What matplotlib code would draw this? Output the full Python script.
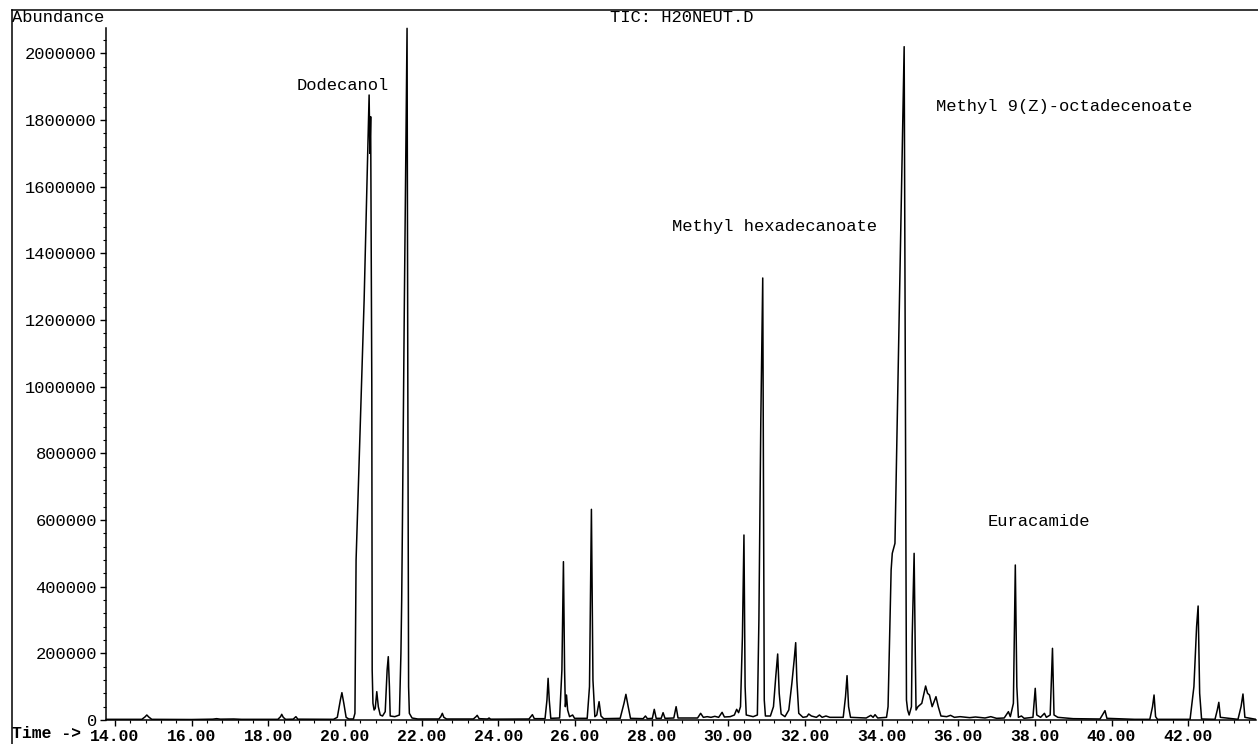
import matplotlib
matplotlib.use("Agg")
import matplotlib.pyplot as plt
from matplotlib.lines import Line2D
from matplotlib.ticker import MultipleLocator, FixedLocator, FormatStrFormatter
import numpy as np

# retention time (min) and abundance, point by point
time = [13.77, 14.70, 14.78, 14.83, 14.88, 14.96, 16.00, 16.55, 16.65, 16.75, 17.10, 17.30,
        18.25, 18.32, 18.35, 18.39, 18.45, 18.65, 18.72, 18.77, 19.70, 19.80, 19.88, 19.92,
        19.97, 20.03, 20.10, 20.22,
        20.26, 20.29, 20.50, 20.63, 20.65, 20.67, 20.70, 20.71, 20.73, 20.76, 20.79, 20.83,
        20.87, 20.92, 20.98, 21.05, 21.10, 21.13, 21.16, 21.18, 21.30, 21.42, 21.46, 21.48,
        21.50, 21.55, 21.62, 21.64, 21.66, 21.68, 21.75, 21.90,
        22.45, 22.50, 22.54, 22.58, 22.65, 23.35, 23.42, 23.45, 23.50, 23.72, 23.76, 23.80,
        24.80, 24.86, 24.89, 24.94, 25.22, 25.27, 25.30, 25.33, 25.37, 25.60, 25.66, 25.70,
        25.73, 25.75, 25.78, 25.81, 25.86, 25.94, 25.99, 26.32, 26.38, 26.43, 26.47, 26.52,
        26.57, 26.63, 26.68, 26.75, 27.18, 27.28, 27.33, 27.39, 27.45, 27.78, 27.84, 27.89,
        28.02, 28.07, 28.12, 28.25, 28.30, 28.35, 28.58, 28.64, 28.69, 29.20, 29.28, 29.35,
        29.45, 29.55, 29.65, 29.75, 29.84, 29.90, 30.05, 30.16, 30.22, 30.27, 30.32, 30.37,
        30.41, 30.44, 30.47, 30.65,
        30.76, 30.80, 30.85, 30.90, 30.92, 30.94, 30.97, 31.10, 31.18, 31.24, 31.29, 31.33,
        31.38, 31.48, 31.58, 31.66, 31.72, 31.76, 31.79, 31.84, 31.95, 32.05, 32.10, 32.17,
        32.30, 32.38, 32.45, 32.55, 32.65, 33.00, 33.06, 33.10, 33.14, 33.19, 33.60, 33.72,
        33.78, 33.83, 33.90, 34.13,
        34.17, 34.25, 34.28, 34.35, 34.59, 34.62, 34.65, 34.68, 34.72, 34.78, 34.80, 34.85,
        34.88, 34.90, 34.95, 35.05, 35.15, 35.20, 35.25, 35.32, 35.42, 35.48, 35.55, 35.70,
        35.80, 35.90, 36.05, 36.30, 36.45, 36.70, 36.85, 37.00, 37.20, 37.31, 37.36, 37.44,
        37.49, 37.53, 37.57, 37.65, 37.72, 37.95, 38.01, 38.05, 38.15, 38.25, 38.30, 38.40,
        38.46, 38.50, 38.60, 39.00, 39.70, 39.78, 39.83, 39.88, 40.60, 41.00, 41.07, 41.11,
        41.15, 41.20, 42.05, 42.15, 42.22, 42.26, 42.30, 42.35, 42.70, 42.76, 42.80, 42.84,
        43.30, 43.38, 43.43, 43.48, 43.77]

abundance = [2000, 2000, 9000, 15000, 9000, 2000, 1500, 2500, 4000, 2500, 3000, 2000,
             2000, 10000, 17000, 8000, 2000, 2500, 10000, 2500, 2000, 8000, 60000, 82000,
             50000, 8000, 3000, 3000,
             20000, 480000, 1260000, 1875000, 1700000, 1810000, 1000000, 150000, 50000, 30000, 35000, 85000,
             40000, 15000, 12000, 25000, 150000, 190000, 100000, 12000, 10000, 15000, 200000, 360000,
             600000, 1260000, 2075000, 1000000, 100000, 20000, 6000, 3000,
             3000, 10000, 20000, 8000, 3000, 3000, 10000, 14000, 4000, 3000, 6000, 2500,
             3000, 12000, 16000, 4000, 4000, 60000, 125000, 60000, 5000, 6000, 150000, 475000,
             150000, 40000, 75000, 30000, 10000, 15000, 5000, 5000, 100000, 632000, 120000, 10000,
             15000, 55000, 12000, 4000, 5000, 50000, 77000, 40000, 5000, 4000, 12000, 4000,
             5000, 32000, 5000, 5000, 22000, 5000, 6000, 40000, 6000, 6000, 20000, 8000,
             10000, 8000, 11000, 8000, 23000, 9000, 10000, 15000, 32000, 22000, 40000, 250000,
             555000, 100000, 15000, 10000,
             15000, 300000, 900000, 1326000, 700000, 60000, 12000, 12000, 40000, 130000, 198000, 80000,
             18000, 10000, 30000, 110000, 180000, 232000, 120000, 20000, 8000, 10000, 18000, 12000,
             8000, 15000, 8000, 12000, 8000, 8000, 70000, 133000, 40000, 8000, 6000, 14000,
             8000, 16000, 6000, 8000,
             40000, 450000, 500000, 530000, 2020000, 1000000, 60000, 30000, 15000, 40000, 250000, 500000,
             200000, 30000, 40000, 50000, 102000, 80000, 75000, 40000, 70000, 40000, 12000, 10000,
             14000, 8000, 10000, 7000, 9000, 6000, 10000, 5000, 6000, 25000, 10000, 50000,
             465000, 100000, 8000, 12000, 5000, 8000, 95000, 15000, 8000, 20000, 8000, 15000,
             215000, 15000, 8000, 4000, 3000, 18000, 28000, 5000, 2000, 2000, 40000, 75000,
             10000, 2000, 2000, 100000, 280000, 342000, 80000, 3000, 2000, 30000, 53000, 8000,
             2000, 40000, 78000, 8000, 2000]

peak_names = ["Dodecanol", "Methyl hexadecanoate", "Methyl 9(Z)-octadecenoate", "Euracamide"]
label_time = [18.75, 28.53, 35.42, 36.78]
label_abund = [1902000, 1482000, 1842000, 594000]

mono = "Liberation Mono"

fig = plt.figure(figsize=(12.58, 7.44), dpi=100)
ax = fig.add_axes([106 / 1258, 24 / 744, 1150 / 1258, 710 / 744])

ax.plot(time, abundance, color="black", lw=1.1)

ax.set_xlim(13.765, 43.77)
ax.set_ylim(0, 2130000)

for s in ["top", "right"]:
    ax.spines[s].set_visible(False)
for s in ["left", "bottom"]:
    ax.spines[s].set_linewidth(1.1)
ax.spines["left"].set_bounds(0, 2076000)

ax.xaxis.set_major_locator(MultipleLocator(2))
ax.xaxis.set_minor_locator(MultipleLocator(0.4))
ax.xaxis.set_major_formatter(FormatStrFormatter("%.2f"))
ax.yaxis.set_major_locator(MultipleLocator(200000))
ax.yaxis.set_minor_locator(FixedLocator(np.arange(0, 2060001, 40000)))
ax.yaxis.set_major_formatter(FormatStrFormatter("%d"))

ax.tick_params(axis="both", which="major", direction="out", length=4.5, width=1.0, pad=2)
ax.tick_params(axis="both", which="minor", direction="out", length=2.5, width=0.8)
for lab in ax.get_xticklabels():
    lab.set_fontfamily(mono)
    lab.set_fontsize(11.8)
    lab.set_fontweight("bold")
for lab in ax.get_yticklabels():
    lab.set_fontfamily(mono)
    lab.set_fontsize(12.3)

for name, t, a in zip(peak_names, label_time, label_abund):
    ax.text(t, a, name, family=mono, fontsize=12.3, ha="left", va="center")

# outer frame of the instrument printout
fig.add_artist(Line2D([12 / 1258, 1.0], [1 - 10 / 744, 1 - 10 / 744], color="black", lw=1.1))
fig.add_artist(Line2D([12 / 1258, 12 / 1258], [0.0, 1 - 10 / 744], color="black", lw=1.1))

fig.text(12 / 1258, 1 - 18 / 744, "Abundance", family=mono, fontsize=12.3, ha="left", va="center")
fig.text(682 / 1258, 1 - 18 / 744, "TIC: H20NEUT.D", family=mono, fontsize=12.3, ha="center", va="center")
fig.text(12 / 1258, 1 - 734 / 744, "Time ->", family=mono, fontsize=11.8, fontweight="bold",
         ha="left", va="center")

fig.savefig("out.png", dpi=100)
